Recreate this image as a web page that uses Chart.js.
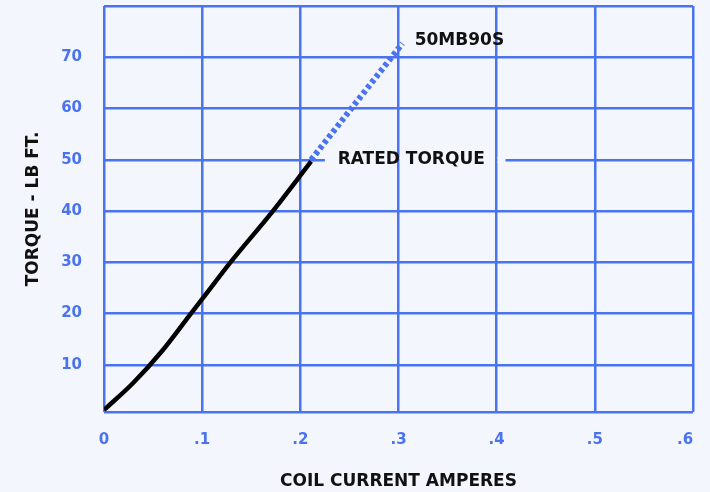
<!DOCTYPE html>
<html>
<head>
<meta charset="utf-8">
<script src="https://cdn.jsdelivr.net/npm/chart.js@4"></script>
<style>
  html, body { margin: 0; padding: 0; background: #f3f6fd; }
  #wrap { width: 710px; height: 492px; }
</style>
</head>
<body>
<div id="wrap"><canvas id="torqueChart"></canvas></div>
<script>
// Torque curve (solid, up to rated torque)
const currentAmps = [0, 0.0294, 0.06, 0.0889, 0.1007, 0.128, 0.172, 0.211];
const torqueLbFt = [1.2, 6.4, 12.9, 20.1, 23, 29.8, 40, 49.7];

// Extension beyond rated torque (dotted)
const extAmps = [0.211, 0.304];
const extTorque = [50, 72.7];

// Axes
const xTickValues = [0, 0.1, 0.2, 0.3, 0.4, 0.5, 0.6];
const xTickLabels = ['0', '.1', '.2', '.3', '.4', '.5', '.6'];
const yTickValues = [10, 20, 30, 40, 50, 60, 70];
const yMin = 0.8;
const yMax = 80;

// Annotation labels: [text, x, y]
const ratedLabel = ['RATED TORQUE', 0.238, 50];
const modelLabel = ['50MB90S', 0.3165, 73.3];
const ratedGap = [0.225, 0.409]; // part of the 50 line hidden behind the label

const blue = '#4a73ef';
const bg = '#f3f6fd';
const fontFamily = '"DejaVu Sans", sans-serif';
const gridWidth = 2.5;

// paint the page background
const bgPlugin = {
    id: 'bgPlugin',
    beforeDraw(chart) {
        const ctx = chart.ctx;
        ctx.save();
        ctx.fillStyle = bg;
        ctx.fillRect(0, 0, chart.width, chart.height);
        ctx.restore();
    }
};

// text labels and the gap in the rated torque line
const labelPlugin = {
    id: 'labelPlugin',
    beforeDatasetsDraw(chart) {
        const ctx = chart.ctx;
        const xs = chart.scales.x, ys = chart.scales.y;
        const y50 = ys.getPixelForValue(ratedLabel[2]);
        const half = gridWidth / 2;
        // hide the 50 line between the vertical grid lines only
        const inner = xTickValues.filter(v => v > ratedGap[0] && v < ratedGap[1])
            .map(v => Math.round(xs.getPixelForValue(v) - half) + half);
        const edges = [xs.getPixelForValue(ratedGap[0])].concat(inner, [xs.getPixelForValue(ratedGap[1])]);
        ctx.save();
        ctx.fillStyle = bg;
        for (let i = 0; i < edges.length - 1; i++) {
            const a = i === 0 ? edges[i] : edges[i] + half;
            const b = i === edges.length - 2 ? edges[i + 1] : edges[i + 1] - half;
            ctx.fillRect(a, y50 - 3, b - a, 6);
        }
        ctx.restore();
    },
    afterDatasetsDraw(chart) {
        const ctx = chart.ctx;
        const xs = chart.scales.x, ys = chart.scales.y;
        ctx.save();
        ctx.fillStyle = '#111111';
        ctx.font = 'bold 17px ' + fontFamily;
        ctx.textAlign = 'left';
        ctx.textBaseline = 'middle';
        [ratedLabel, modelLabel].forEach(l => {
            ctx.fillText(l[0], xs.getPixelForValue(l[1]), ys.getPixelForValue(l[2]));
        });
        ctx.restore();
    }
};

const ctx = document.getElementById('torqueChart').getContext('2d');
new Chart(ctx, {
    type: 'line',
    data: {
        datasets: [
            {
                label: 'Torque',
                data: currentAmps.map((a, i) => ({ x: a, y: torqueLbFt[i] })),
                borderColor: '#000000',
                borderWidth: 4.5,
                pointRadius: 0,
                cubicInterpolationMode: 'monotone',
                fill: false
            },
            {
                label: '50MB90S',
                data: extAmps.map((a, i) => ({ x: a, y: extTorque[i] })),
                borderColor: blue,
                borderWidth: 6,
                borderDash: [4, 3],
                pointRadius: 0,
                fill: false
            }
        ]
    },
    options: {
        responsive: true,
        maintainAspectRatio: false,
        animation: false,
        layout: { padding: { top: 6, right: 17, left: 0, bottom: 0 } },
        plugins: {
            legend: { display: false },
            tooltip: { enabled: false }
        },
        scales: {
            x: {
                type: 'linear',
                min: 0,
                max: 0.6,
                afterBuildTicks: s => { s.ticks = xTickValues.map(v => ({ value: v })); },
                afterFit: s => { s.height = 80; s.paddingLeft = 0; s.paddingRight = 0; },
                grid: { color: blue, lineWidth: gridWidth, drawTicks: false },
                border: { display: false },
                ticks: {
                    padding: 19,
                    color: blue,
                    font: { family: fontFamily, size: 15, weight: 'bold' },
                    // last label sits a little left of its grid line
                    callback: (v, i) => i === xTickLabels.length - 1 ? xTickLabels[i] + '   ' : xTickLabels[i]
                },
                title: {
                    display: true,
                    text: 'COIL CURRENT AMPERES',
                    color: '#111111',
                    font: { family: fontFamily, size: 17, weight: 'bold' },
                    padding: { top: 0, bottom: 0 }
                }
            },
            y: {
                type: 'linear',
                min: yMin,
                max: yMax,
                afterBuildTicks: s => {
                    s.ticks = [yMin].concat(yTickValues, [yMax]).map(v => ({ value: v }));
                },
                afterFit: s => { s.width = 104; s.paddingTop = 0; s.paddingBottom = 0; },
                grid: { color: blue, lineWidth: gridWidth, drawTicks: false },
                border: { display: false },
                ticks: {
                    padding: 22,
                    color: blue,
                    font: { family: fontFamily, size: 15, weight: 'bold' },
                    callback: v => yTickValues.includes(v) ? String(v) : ''
                },
                title: {
                    display: true,
                    text: 'TORQUE - LB FT.',
                    color: '#111111',
                    font: { family: fontFamily, size: 17, weight: 'bold' },
                    padding: { top: 23, bottom: 0 }
                }
            }
        }
    },
    plugins: [bgPlugin, labelPlugin]
});
</script>
</body>
</html>
